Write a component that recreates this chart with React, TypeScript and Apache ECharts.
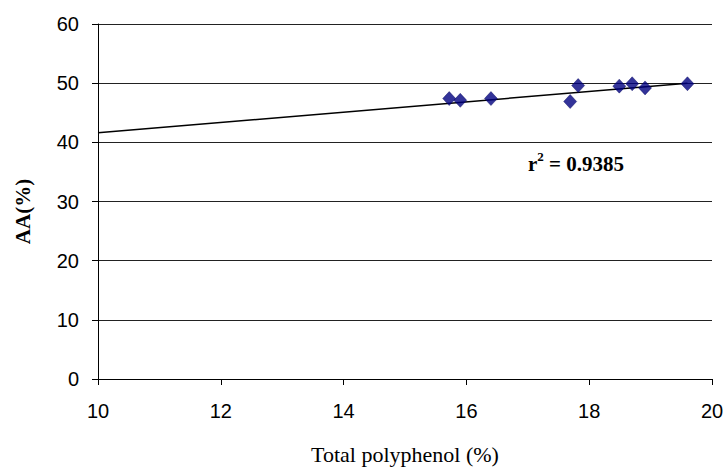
import React, { useEffect, useRef } from "react";
import * as echarts from "echarts";

const polyphenol = [15.72, 15.9, 16.4, 17.69, 17.82, 18.49, 18.7, 18.91, 19.6];
const aa = [47.4, 47.1, 47.4, 46.9, 49.6, 49.5, 49.9, 49.2, 49.9];
const trendX = [10, 19.6];
const trendY = [41.6, 50.0];
const xTitle = "Total polyphenol (%)";
const yTitle = "AA(%)";
const r2Label = "0.9385";

export default function App() {
  const ref = useRef<HTMLDivElement>(null);
  useEffect(() => {
    const chart = echarts.init(ref.current!, null, { renderer: "svg" });
    chart.setOption({
      animation: false,
      backgroundColor: "#fff",
      grid: { left: 98, right: 16, top: 24, bottom: 84 },
      xAxis: {
        type: "value",
        min: 10,
        max: 20,
        interval: 2,
        name: xTitle,
        nameLocation: "middle",
        nameGap: 64,
        nameTextStyle: { fontFamily: "Liberation Serif", fontSize: 22, color: "#000" },
        axisLine: { show: true, onZero: false, lineStyle: { color: "#000", width: 1 } },
        axisTick: { show: true, inside: false, length: 6, lineStyle: { color: "#000" } },
        axisLabel: { fontFamily: "Liberation Sans", fontSize: 20, color: "#000", margin: 22 },
        splitLine: { show: false },
      },
      yAxis: {
        type: "value",
        min: 0,
        max: 60,
        interval: 10,
        name: yTitle,
        nameLocation: "middle",
        nameGap: 65,
        nameRotate: 90,
        nameTextStyle: { fontFamily: "Liberation Serif", fontSize: 21, fontWeight: "bold", color: "#000", padding: [0, 20, 0, 0] },
        axisLine: { show: true, lineStyle: { color: "#000", width: 1 } },
        axisTick: { show: true, inside: false, length: 6, lineStyle: { color: "#000" } },
        axisLabel: { fontFamily: "Liberation Sans", fontSize: 20, color: "#000", margin: 19 },
        splitLine: { show: true, lineStyle: { color: "#222", width: 1 } },
      },
      series: [
        {
          type: "line",
          data: trendX.map((x, i) => [x, trendY[i]]),
          showSymbol: false,
          symbol: "none",
          lineStyle: { color: "#000", width: 1.5 },
          z: 2,
        },
        {
          type: "scatter",
          data: polyphenol.map((x, i) => [x, aa[i]]),
          symbol: "diamond",
          symbolSize: [13, 14],
          itemStyle: { color: "#000080", borderColor: "#00005a", borderWidth: 0.5 },
          z: 3,
        },
      ],
      graphic: [
        {
          type: "text",
          left: 528,
          top: 150,
          style: {
            text: "{r|r}{sup|2}{r| = " + r2Label + "}",
            rich: {
              r: { fontFamily: "Liberation Serif", fontSize: 21, fontWeight: "bold", fill: "#000", verticalAlign: "bottom", lineHeight: 24 },
              sup: { fontFamily: "Liberation Serif", fontSize: 13, fontWeight: "bold", fill: "#000", verticalAlign: "top", lineHeight: 24, padding: [0, 0, 12, 0] },
            },
          },
        },
      ],
    });
    return () => chart.dispose();
  }, []);
  return <div ref={ref} style={{ width: 728, height: 470, position: "absolute", left: 0, top: 0 }} />;
}
